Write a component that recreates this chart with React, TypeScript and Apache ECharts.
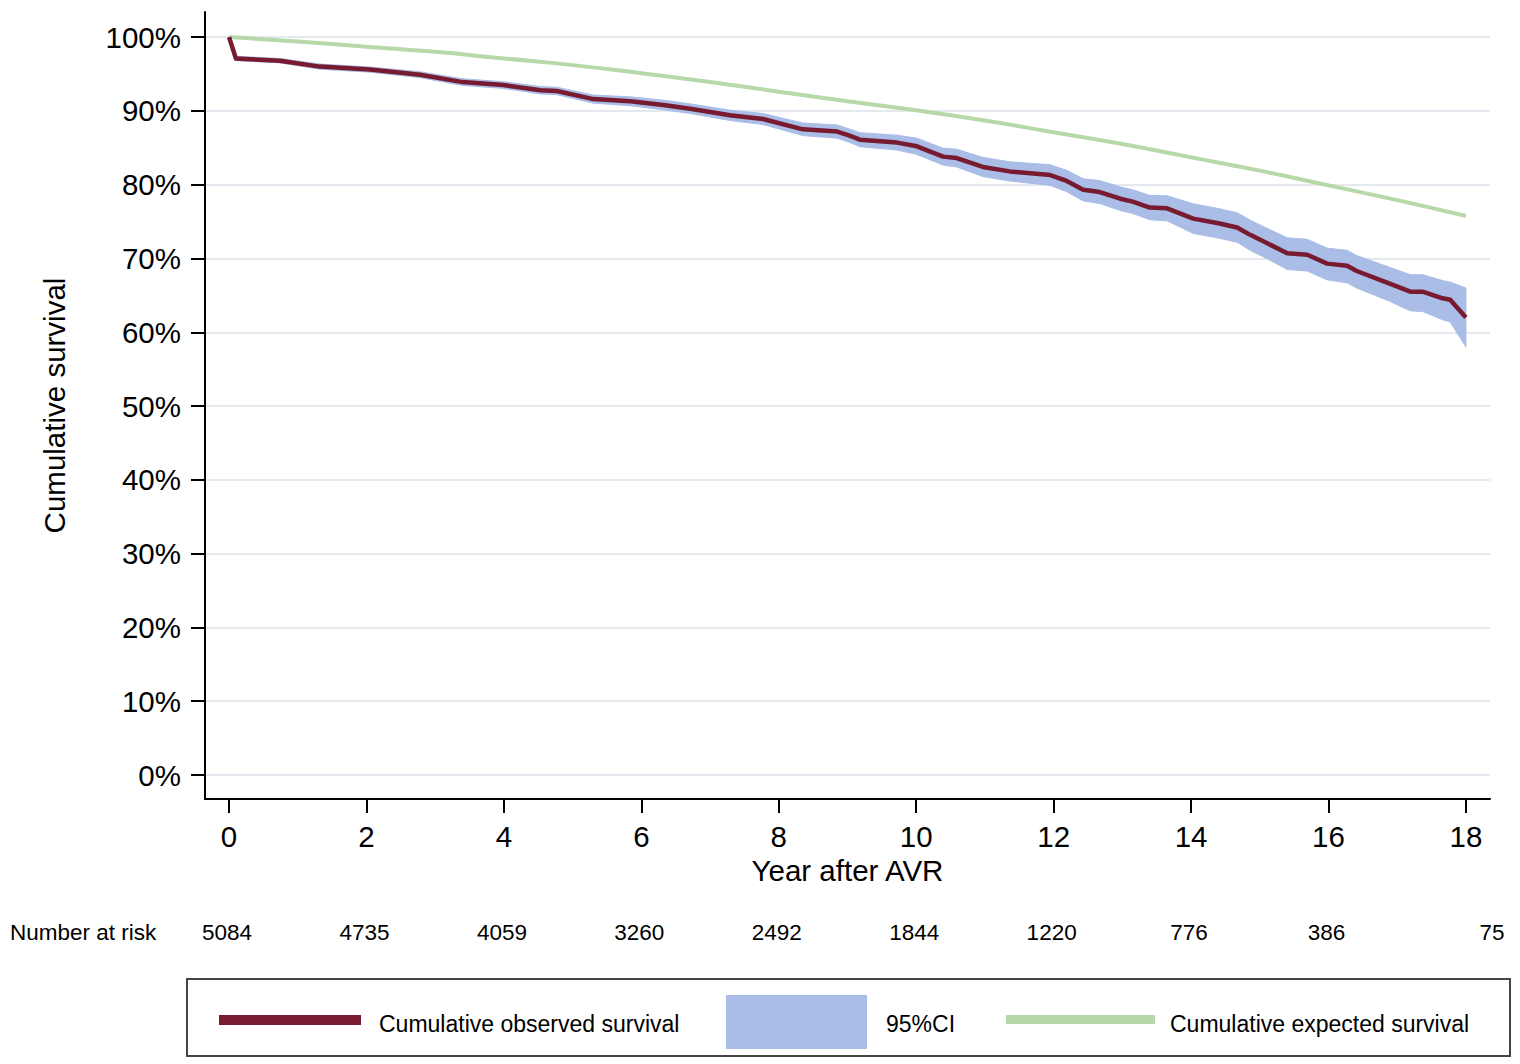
import React, { useEffect, useRef } from "react";
import * as echarts from "echarts";

const obsYears = [0, 0.1, 0.74, 1.32, 2.05, 2.78, 3.4, 3.99, 4.53, 4.77, 5.3, 5.84, 6.32, 6.71, 7.29, 7.77, 8.35, 8.85, 9.04, 9.18, 9.72, 10.01, 10.39, 10.59, 10.97, 11.36, 11.95, 12.19, 12.43, 12.67, 12.97, 13.15, 13.4, 13.65, 14.03, 14.38, 14.67, 14.86, 15.1, 15.4, 15.69, 15.98, 16.27, 16.41, 16.89, 17.19, 17.37, 17.66, 17.77, 18.0];
const obsSurvival = [100, 97.1, 96.8, 96.0, 95.6, 94.9, 93.9, 93.5, 92.8, 92.7, 91.6, 91.3, 90.8, 90.3, 89.4, 88.9, 87.5, 87.2, 86.6, 86.1, 85.7, 85.2, 83.8, 83.6, 82.4, 81.8, 81.3, 80.5, 79.3, 79.0, 78.1, 77.7, 76.9, 76.8, 75.4, 74.8, 74.2, 73.2, 72.1, 70.7, 70.5, 69.3, 69.0, 68.3, 66.6, 65.5, 65.5, 64.6, 64.4, 62.0];
const ciUpper = [100, 97.4, 97.1, 96.35, 95.95, 95.3, 94.35, 93.95, 93.3, 93.2, 92.15, 91.9, 91.45, 90.95, 90.1, 89.65, 88.35, 88.1, 87.5, 87.05, 86.7, 86.3, 84.95, 84.8, 83.7, 83.1, 82.7, 81.95, 80.8, 80.55, 79.7, 79.3, 78.55, 78.5, 77.4, 76.8, 76.2, 75.2, 74.1, 72.8, 72.6, 71.4, 71.1, 70.4, 68.8, 67.8, 67.8, 67.0, 66.8, 66.0];
const ciLower = [100, 96.8, 96.5, 95.65, 95.25, 94.5, 93.45, 93.05, 92.3, 92.2, 91.05, 90.7, 90.15, 89.65, 88.7, 88.15, 86.65, 86.3, 85.7, 85.15, 84.7, 84.1, 82.65, 82.4, 81.1, 80.5, 79.9, 79.05, 77.8, 77.45, 76.5, 76.1, 75.25, 75.1, 73.4, 72.8, 72.2, 71.1, 70.0, 68.5, 68.3, 67.1, 66.7, 66.0, 64.2, 62.9, 62.8, 61.7, 61.4, 58.0];

const expYears = [0, 1, 2, 3, 4, 5, 6, 7, 8, 9, 10, 11, 12, 13, 14, 15, 16, 17, 18];
const expSurvival = [100, 99.4, 98.7, 98.0, 97.1, 96.2, 95.1, 93.9, 92.6, 91.3, 90.1, 88.7, 87.1, 85.5, 83.7, 81.9, 79.9, 77.9, 75.75];

const xTicks = [0, 2, 4, 6, 8, 10, 12, 14, 16, 18];
const yTicks = [0, 10, 20, 30, 40, 50, 60, 70, 80, 90, 100];

const riskYears = [0, 2, 4, 6, 8, 10, 12, 14, 16, 18];
const riskCounts = [5084, 4735, 4059, 3260, 2492, 1844, 1220, 776, 386, 75];

const legendLabels = ["Cumulative observed survival", "95%CI", "Cumulative expected survival"];

const FONT = "'Liberation Sans', Arial, Helvetica, sans-serif";
const RED = "#781a30";
const BLUE = "#a9bde7";
const GREEN = "#b7d8a8";
const GRID = "#e3e9ee";

export default function App() {
  const ref = useRef<HTMLDivElement>(null);
  useEffect(() => {
    if (!ref.current) return;
    const chart = echarts.init(ref.current, null, { renderer: "svg" });
    const obs = obsYears.map((x, i) => [x, obsSurvival[i]]);
    const exp = expYears.map((x, i) => [x, expSurvival[i]]);
    const band = obsYears.map((x, i) => [x, ciLower[i], ciUpper[i]]);

    chart.setOption({
      animation: false,
      backgroundColor: "#ffffff",
      textStyle: { fontFamily: FONT },
      grid: { left: 205, right: 30, top: 12, bottom: 265, outerBoundsMode: "none", containLabel: false },
      xAxis: {
        type: "value",
        min: -0.35,
        max: 18.35,
        name: "Year after AVR",
        nameLocation: "middle",
        nameGap: 54,
        nameTextStyle: { fontSize: 29.5, color: "#000", fontFamily: FONT },
        axisLine: { show: true, onZero: false, lineStyle: { color: "#000", width: 2 } },
        axisTick: { show: true, customValues: xTicks, length: 14, lineStyle: { color: "#000", width: 2 } },
        axisLabel: { customValues: xTicks, margin: 22, fontSize: 29.5, color: "#000", fontFamily: FONT, formatter: (v: number) => String(v) },
        splitLine: { show: false },
      },
      yAxis: {
        type: "value",
        min: -3.25,
        max: 103.4,
        name: "Cumulative survival",
        nameLocation: "middle",
        nameGap: 136,
        nameRotate: 90,
        nameTextStyle: { fontSize: 29.5, color: "#000", fontFamily: FONT },
        axisLine: { show: true, onZero: false, lineStyle: { color: "#000", width: 2 } },
        axisTick: { show: true, customValues: yTicks, length: 14, lineStyle: { color: "#000", width: 2 } },
        axisLabel: { customValues: yTicks, margin: 24, fontSize: 29.5, color: "#000", fontFamily: FONT, formatter: (v: number) => v + "%" },
        splitLine: { show: true, lineStyle: { color: GRID, width: 2 } },
      },
      series: [
        {
          type: "custom",
          name: legendLabels[1],
          data: band,
          encode: { x: 0, y: [1, 2] },
          silent: true,
          z: 1,
          renderItem: (params: any, api: any) => {
            if (params.dataIndex !== 0) return null;
            const upper = band.map((d) => api.coord([d[0], d[2]]));
            const lower = band.map((d) => api.coord([d[0], d[1]])).reverse();
            return {
              type: "polygon",
              shape: { points: upper.concat(lower) },
              style: { fill: BLUE, stroke: BLUE, lineWidth: 1 },
            };
          },
        },
        {
          type: "line",
          name: legendLabels[2],
          data: exp,
          symbol: "none",
          smooth: true,
          lineStyle: { color: GREEN, width: 4 },
          z: 2,
        },
        {
          type: "line",
          name: legendLabels[0],
          data: obs,
          symbol: "none",
          lineStyle: { color: RED, width: 4.5, join: "round" },
          z: 3,
        },
      ],
    });

    const graphics: any[] = [];
    graphics.push({
      type: "text",
      x: 10,
      y: 932,
      style: { text: "Number at risk", fontSize: 22.5, fill: "#000", fontFamily: FONT, verticalAlign: "middle" },
    });
    riskYears.forEach((yr, i) => {
      const px = chart.convertToPixel({ xAxisIndex: 0 }, yr) as number;
      const isLast = i === riskYears.length - 1;
      graphics.push({
        type: "text",
        x: isLast ? px + 26 : px - 2,
        y: 932,
        style: {
          text: String(riskCounts[i]),
          fontSize: 22.5,
          fill: "#000",
          fontFamily: FONT,
          align: "center",
          verticalAlign: "middle",
        },
      });
    });
    graphics.push({
      type: "rect",
      shape: { x: 187, y: 979, width: 1323, height: 77 },
      style: { fill: "#fff", stroke: "#444", lineWidth: 2 },
    });
    graphics.push({ type: "rect", shape: { x: 219, y: 1015, width: 142, height: 10 }, style: { fill: RED } });
    graphics.push({
      type: "text",
      x: 379,
      y: 1024,
      style: { text: legendLabels[0], fontSize: 23, fill: "#000", fontFamily: FONT, verticalAlign: "middle" },
    });
    graphics.push({ type: "rect", shape: { x: 726, y: 995, width: 141, height: 54 }, style: { fill: BLUE } });
    graphics.push({
      type: "text",
      x: 886,
      y: 1024,
      style: { text: legendLabels[1], fontSize: 23, fill: "#000", fontFamily: FONT, verticalAlign: "middle" },
    });
    graphics.push({ type: "rect", shape: { x: 1006, y: 1015, width: 149, height: 9 }, style: { fill: GREEN } });
    graphics.push({
      type: "text",
      x: 1170,
      y: 1024,
      style: { text: legendLabels[2], fontSize: 23, fill: "#000", fontFamily: FONT, verticalAlign: "middle" },
    });
    chart.setOption({ graphic: graphics });

    return () => chart.dispose();
  }, []);
  return <div ref={ref} style={{ position: "absolute", left: 0, top: 0, width: 1520, height: 1064 }} />;
}
